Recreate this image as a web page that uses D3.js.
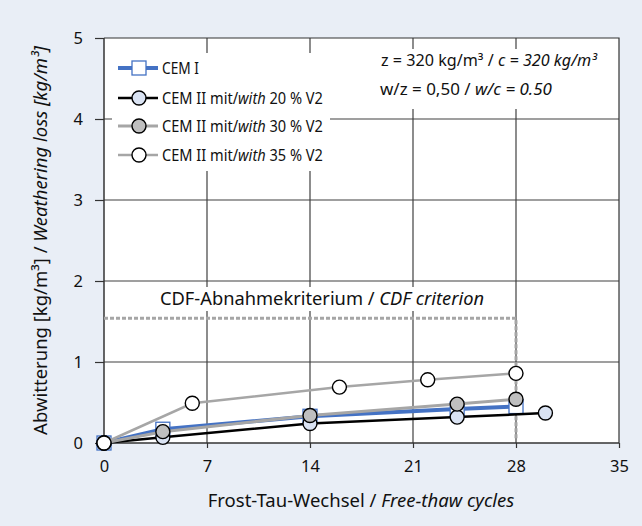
<!DOCTYPE html>
<html>
<head>
<meta charset="utf-8">
<script src="https://cdn.jsdelivr.net/npm/d3@7"></script>
<style>
  body { margin: 0; background: #e9eef6; }
  svg { display: block; font-family: "Noto Sans", sans-serif; }
</style>
</head>
<body>
<svg id="chart" width="642" height="526"></svg>
<script>
// Freeze-thaw weathering loss per mix
const seriesNames = ["CEM I", "CEM II mit/with 20 % V2", "CEM II mit/with 30 % V2", "CEM II mit/with 35 % V2"];
const cyclesCemI = [0, 4, 14, 24, 28];
const lossCemI   = [0, 0.17, 0.33, 0.42, 0.45];
const cycles20   = [0, 4, 14, 24, 30];
const loss20     = [0, 0.07, 0.24, 0.32, 0.37];
const cycles30   = [0, 4, 14, 24, 28];
const loss30     = [0, 0.14, 0.34, 0.48, 0.54];
const cycles35   = [0, 6, 16, 22, 28];
const loss35     = [0, 0.49, 0.69, 0.78, 0.86];
// CDF acceptance criterion
const criterionLoss = 1.54;
const criterionCycles = 28;
const xTicks = [0, 7, 14, 21, 28, 35];
const yTicks = [0, 1, 2, 3, 4, 5];

const svg = d3.select("#chart");
const L = 104, R = 619, T = 38, B = 443;
const x = d3.scaleLinear().domain([0, 35]).range([L, R]);
const y = d3.scaleLinear().domain([0, 5]).range([B, T]);
const gridCol = "#404040";
const ink = "#111";

// squeeze a text horizontally (condensed face) so it spans the given width
function fitWidth(t, px, py, width) {
  t.attr("x", 0).attr("y", 0);
  const w = t.node().getComputedTextLength();
  t.attr("transform", `translate(${px},${py}) scale(${width / w},1)`);
}

// plot area
svg.append("rect").attr("x", L).attr("y", T).attr("width", R - L).attr("height", B - T).attr("fill", "#fff");

// gridlines
const grid = svg.append("g");
grid.selectAll("line.h").data(yTicks.filter(v => v > 0 && v < 5)).join("line")
  .attr("x1", L).attr("x2", R).attr("y1", d => y(d)).attr("y2", d => y(d))
  .attr("stroke", gridCol).attr("stroke-width", 1.2);
grid.selectAll("line.v").data(xTicks.filter(v => v > 0 && v < 35)).join("line")
  .attr("x1", d => x(d)).attr("x2", d => x(d)).attr("y1", T).attr("y2", B)
  .attr("stroke", gridCol).attr("stroke-width", 1.2);

// frame top / right
svg.append("path").attr("d", `M${L},${T}H${R}V${B}`).attr("fill", "none").attr("stroke", "#333").attr("stroke-width", 1.2);

// axes
const xAxis = d3.axisBottom(x).tickValues(xTicks).tickSize(5).tickPadding(12).tickFormat(d3.format("d"));
const yAxis = d3.axisLeft(y).tickValues(yTicks).tickSize(9).tickPadding(12).tickFormat(d3.format("d"));
const gx = svg.append("g").attr("transform", `translate(0,${B})`).call(xAxis);
const gy = svg.append("g").attr("transform", `translate(${L},0)`).call(yAxis);
[gx, gy].forEach(g => {
  g.select(".domain").attr("stroke", "#333").attr("stroke-width", 1.5);
  g.selectAll(".tick line").attr("stroke", "#333").attr("stroke-width", 1.2);
  g.selectAll(".tick text").attr("font-family", "Noto Sans").attr("font-size", 16.5).attr("fill", ink);
});
gy.select(".domain").attr("d", `M0,${T}V${B}`);
gx.select(".domain").attr("d", `M${L},0H${R}`);

// white label boxes covering gridlines
svg.append("rect").attr("x", 112).attr("y", 53).attr("width", 218).attr("height", 118).attr("fill", "#fff");
svg.append("rect").attr("x", 362).attr("y", 49).attr("width", 240).attr("height", 60).attr("fill", "#fff");
svg.append("rect").attr("x", 150).attr("y", 287).attr("width", 345).attr("height", 24).attr("fill", "#fff");

// criterion
svg.append("path")
  .attr("d", `M${x(0)},${y(criterionLoss)}H${x(criterionCycles)}V${y(0) - 4}`)
  .attr("fill", "none").attr("stroke", "#a6a6a6").attr("stroke-width", 3).attr("stroke-dasharray", "4,2");
const crit = svg.append("text").attr("x", 322).attr("y", 305).attr("text-anchor", "middle")
  .attr("font-size", 18.3).attr("fill", ink);
crit.append("tspan").text("CDF-Abnahmekriterium / ");
crit.append("tspan").attr("font-style", "italic").text("CDF criterion");

// series
const series = [
  { name: seriesNames[0], cx: cyclesCemI, cy: lossCemI, line: "#4472c4", lw: 4, shape: "square", fill: "#fff", mstroke: "#4472c4" },
  { name: seriesNames[1], cx: cycles20, cy: loss20, line: "#000", lw: 2.5, shape: "circle", fill: "#dae3f3", mstroke: "#000" },
  { name: seriesNames[2], cx: cycles30, cy: loss30, line: "#a6a6a6", lw: 3, shape: "circle", fill: "#bfbfbf", mstroke: "#000" },
  { name: seriesNames[3], cx: cycles35, cy: loss35, line: "#a6a6a6", lw: 2.5, shape: "circle", fill: "#fff", mstroke: "#000" }
];
const lineGen = d3.line().x(d => x(d[0])).y(d => y(d[1]));

function marker(g, s, px, py) {
  if (s.shape === "square") {
    g.append("rect").attr("x", px - 7).attr("y", py - 7).attr("width", 14).attr("height", 14)
      .attr("fill", s.fill).attr("stroke", s.mstroke).attr("stroke-width", 1.3);
  } else {
    g.append("circle").attr("cx", px).attr("cy", py).attr("r", 7)
      .attr("fill", s.fill).attr("stroke", s.mstroke).attr("stroke-width", 1.4);
  }
}

series.forEach(s => {
  const pts = s.cx.map((c, i) => [c, s.cy[i]]);
  const g = svg.append("g");
  g.append("path").attr("d", lineGen(pts)).attr("fill", "none").attr("stroke", s.line).attr("stroke-width", s.lw);
  pts.forEach(p => marker(g, s, x(p[0]), y(p[1])));
});

// legend
const legY = [68, 98, 126, 155];
series.forEach((s, i) => {
  const g = svg.append("g");
  g.append("line").attr("x1", 118).attr("x2", 158).attr("y1", legY[i]).attr("y2", legY[i])
    .attr("stroke", s.line).attr("stroke-width", s.lw);
  marker(g, s, 139, legY[i]);
  const t = g.append("text").attr("font-size", 16.5).attr("fill", ink);
  if (i === 0) t.text(s.name);
  else {
    const pct = s.name.split("with")[1];
    t.append("tspan").text("CEM II mit/");
    t.append("tspan").attr("font-style", "italic").text("with");
    t.append("tspan").text(pct);
  }
  fitWidth(t, 162, legY[i] + 6, i === 0 ? 37 : 161);
});

// mix annotation
const a1 = svg.append("text").attr("font-size", 15.5).attr("fill", ink);
a1.append("tspan").text("z = 320 kg/m³ / ");
a1.append("tspan").attr("font-style", "italic").text("c = 320 kg/m³");
fitWidth(a1, 381, 66, 216);
const a2 = svg.append("text").attr("font-size", 15.5).attr("fill", ink);
a2.append("tspan").text("w/z = 0,50 / ");
a2.append("tspan").attr("font-style", "italic").text("w/c = 0.50");
fitWidth(a2, 380, 95, 172);

// axis titles
const xt = svg.append("text").attr("x", 361).attr("y", 507).attr("text-anchor", "middle")
  .attr("font-size", 18.5).attr("fill", ink);
xt.append("tspan").text("Frost-Tau-Wechsel / ");
xt.append("tspan").attr("font-style", "italic").text("Free-thaw cycles");

const yt = svg.append("text").attr("transform", `translate(47,${(T + B) / 2}) rotate(-90)`)
  .attr("text-anchor", "middle").attr("font-size", 18.5).attr("fill", ink);
yt.append("tspan").text("Abwitterung [kg/m³] / ");
yt.append("tspan").attr("font-style", "italic").text("Weathering loss [kg/m³]");
</script>
</body>
</html>
